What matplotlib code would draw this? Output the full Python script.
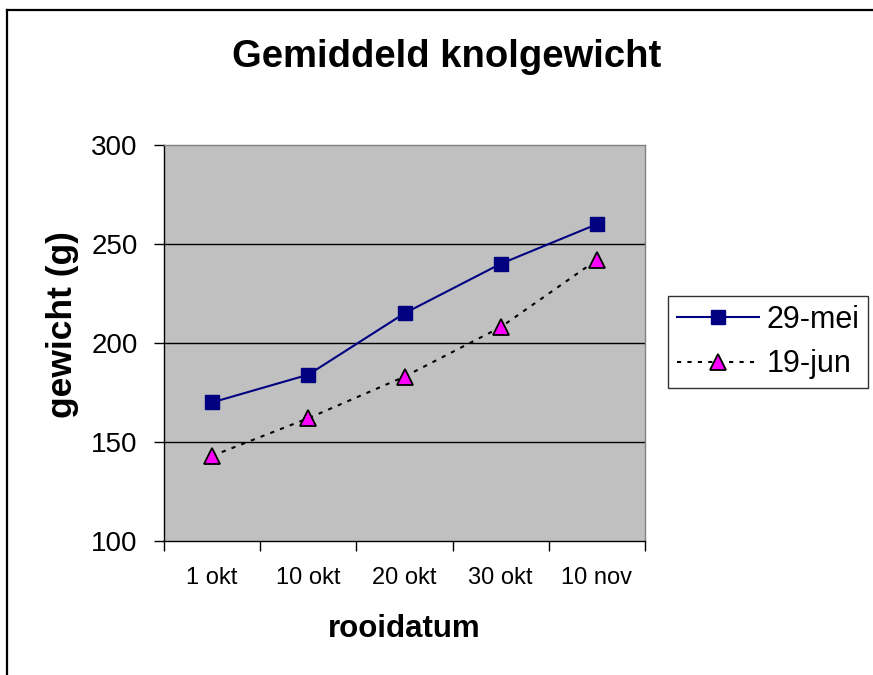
import matplotlib
matplotlib.use("Agg")
import matplotlib.pyplot as plt
from matplotlib.lines import Line2D

plt.rcParams["font.family"] = ["Liberation Sans", "DejaVu Sans"]

categories = ["1 okt", "10 okt", "20 okt", "30 okt", "10 nov"]
mei_29 = [170, 184, 215, 240, 260]
jun_19 = [143, 162, 183, 208, 242]
y_ticks = [100, 150, 200, 250, 300]

W, H = 873, 675
fig = plt.figure(figsize=(W / 100, H / 100), dpi=100)
fig.patch.set_facecolor("white")

# plot area in pixel coords of the reference
x0, x1, y0, y1 = 164, 645, 145, 541
ax = fig.add_axes([x0 / W, 1 - y1 / H, (x1 - x0) / W, (y1 - y0) / H])
ax.set_facecolor("#C0C0C0")

xs = list(range(len(categories)))
ax.plot(xs, mei_29, color="#000080", lw=1.5, marker="s", ms=9.5,
        mfc="#000080", mec="#000080", label="29-mei", zorder=3)
ax.plot(xs, jun_19, color="black", lw=1.5, ls=(0, (2, 3)), marker="^", ms=11,
        mfc="#FF00FF", mec="black", mew=1.3, label="19-jun", zorder=3)

ax.set_xlim(-0.5, len(categories) - 0.5)
ax.set_ylim(100, 300)
ax.set_yticks(y_ticks)
ax.set_yticklabels([str(v) for v in y_ticks], fontsize=20)
ax.tick_params(axis="y", direction="out", length=7, width=1, pad=12, color="black")

# category boundaries as ticks, labels centered between
ax.set_xticks([i - 0.5 for i in range(len(categories) + 1)])
ax.set_xticklabels([])
ax.set_xticks(xs, minor=True)
ax.set_xticklabels(categories, minor=True, fontsize=17)
ax.tick_params(axis="x", which="major", direction="out", length=7, width=1, color="black")
ax.tick_params(axis="x", which="minor", length=0, pad=19)

for v in y_ticks[1:-1]:
    ax.axhline(v, color="black", lw=1, zorder=1)

ax.spines["left"].set_color("black")
ax.spines["bottom"].set_color("black")
ax.spines["top"].set_color("#808080")
ax.spines["right"].set_color("#808080")
for s in ax.spines.values():
    s.set_linewidth(1)

fig.text(447 / W, 1 - 57 / H, "Gemiddeld knolgewicht", ha="center", va="center",
         fontsize=27.5, fontweight="bold")
fig.text(404 / W, 1 - 629 / H, "rooidatum", ha="center", va="center",
         fontsize=22.5, fontweight="bold")
fig.text(63 / W, 1 - 325 / H, "gewicht (g)", ha="center", va="center",
         rotation=90, fontsize=25.5, fontweight="bold")

leg = fig.legend(loc="upper left", bbox_to_anchor=(668 / W, 1 - 296 / H),
                 fontsize=22, frameon=True, fancybox=False, shadow=False,
                 handlelength=2.7, handletextpad=0.25, borderpad=0.28,
                 labelspacing=0.48, borderaxespad=0)
leg.get_frame().set_edgecolor("black")
leg.get_frame().set_linewidth(1)

# outer chart border (top and left visible)
fig.add_artist(Line2D([7 / W, 7 / W], [0, 1 - 10 / H], color="black", lw=1.6,
                      transform=fig.transFigure))
fig.add_artist(Line2D([7 / W, 1], [1 - 10 / H, 1 - 10 / H], color="black", lw=1.6,
                      transform=fig.transFigure))

fig.savefig("out.png", dpi=100)
